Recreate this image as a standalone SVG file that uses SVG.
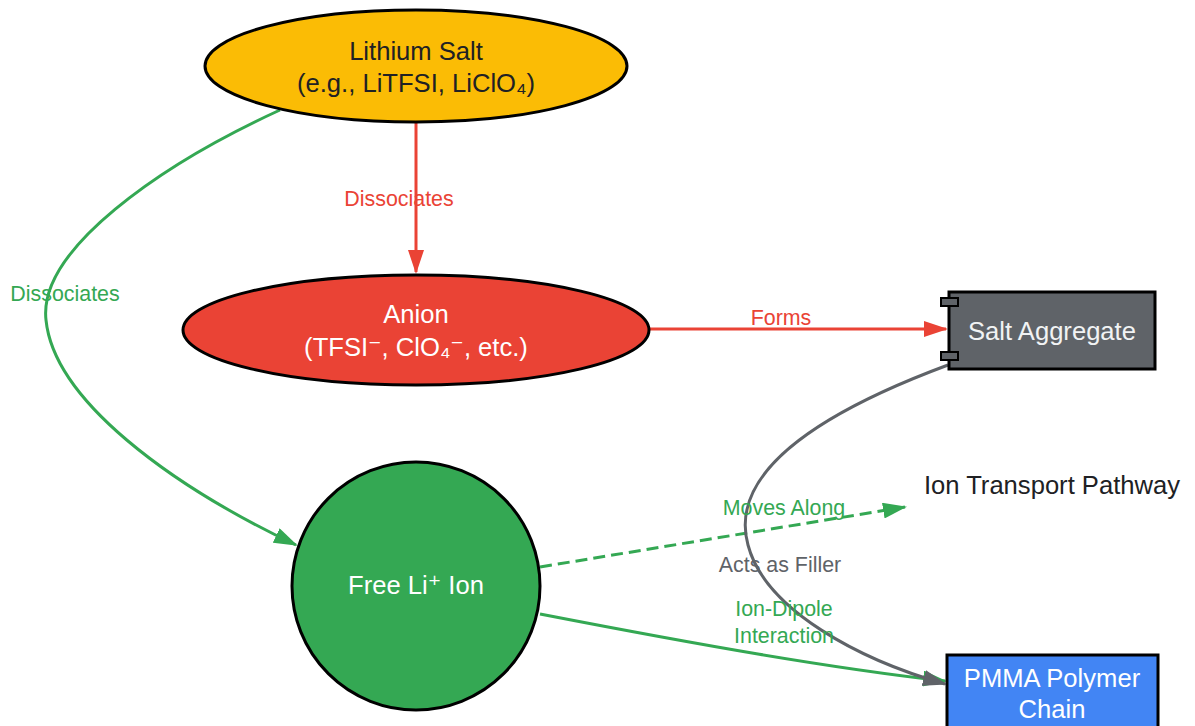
<svg xmlns="http://www.w3.org/2000/svg" width="1195" height="726" viewBox="0 0 1195 726">
<style>
text{font-family:"Liberation Sans",Arial,sans-serif;text-anchor:middle}
.nt{font-size:25.6px}
.el{font-size:21.4px}
.dj{font-family:"DejaVu Sans",sans-serif}
.node{stroke:#000;stroke-width:3}
.edge{fill:none;stroke-width:3}
</style>
<defs>
<marker id="arR" markerUnits="userSpaceOnUse" markerWidth="24" markerHeight="16" viewBox="0 0 24 16" refX="22" refY="8" orient="auto"><path d="M0,0 L24,8 L0,16 z" fill="#ea4335"/></marker>
<marker id="arG" markerUnits="userSpaceOnUse" markerWidth="24" markerHeight="16" viewBox="0 0 24 16" refX="22" refY="8" orient="auto"><path d="M0,0 L24,8 L0,16 z" fill="#34a853"/></marker>
<marker id="arK" markerUnits="userSpaceOnUse" markerWidth="24" markerHeight="16" viewBox="0 0 24 16" refX="22" refY="8" orient="auto"><path d="M0,0 L24,8 L0,16 z" fill="#5f6368"/></marker>
</defs>
<rect width="1195" height="726" fill="#fff"/>
<g id="connectors">
<path class="edge" d="M416,122 L416,272" stroke="#ea4335" marker-end="url(#arR)"/>
<path class="edge" d="M280,110 C160,165 38,250 46,320 C54,400 170,485 296,545" stroke="#34a853" marker-end="url(#arG)"/>
<path class="edge" d="M650,329 L946,329" stroke="#ea4335" marker-end="url(#arR)"/>
<path class="edge" d="M540,567 L905,507" stroke="#34a853" stroke-dasharray="12,6" marker-end="url(#arG)"/>
<path class="edge" d="M540,614 C700,645 830,668 945,681" stroke="#34a853" marker-end="url(#arG)"/>
<path class="edge" d="M948,365 C800,420 730,480 748,545 C765,610 860,660 945,684" stroke="#5f6368" marker-end="url(#arK)"/>
<text class="el" x="399" y="206" fill="#ea4335">Dissociates</text>
<text class="el" x="65" y="301" fill="#34a853">Dissociates</text>
<text class="el" x="781" y="325" fill="#ea4335">Forms</text>
<text class="el" x="784" y="515" fill="#34a853">Moves Along</text>
<text class="el" x="780" y="572" fill="#5f6368">Acts as Filler</text>
<text class="el" x="784" y="616" fill="#34a853">Ion-Dipole</text>
<text class="el" x="784" y="643" fill="#34a853">Interaction</text>
</g>
<g id="lithium-salt">
<ellipse class="node" cx="416" cy="66" rx="211" ry="56" fill="#fbbc05"/>
<text class="nt" x="416" y="60" fill="#202124">Lithium Salt</text>
<text class="nt" x="416" y="92" fill="#202124">(e.g., LiTFSI, LiClO₄)</text>
</g>
<g id="anion">
<ellipse class="node" cx="416" cy="330" rx="233" ry="55" fill="#ea4335"/>
<text class="nt" x="416" y="323" fill="#fff">Anion</text>
<text class="nt" x="416" y="356" fill="#fff">(TFSI<tspan class="dj">⁻</tspan>, ClO₄<tspan class="dj">⁻</tspan>, etc.)</text>
</g>
<g id="free-li">
<circle class="node" cx="416" cy="586" r="124" fill="#34a853"/>
<text class="nt" x="416" y="594" fill="#fff">Free Li<tspan class="dj">⁺</tspan> Ion</text>
</g>
<g id="salt-aggregate">
<rect class="node" x="949" y="292" width="206" height="77" fill="#5f6368"/>
<rect x="941" y="298" width="17" height="8" fill="#5f6368" stroke="#000" stroke-width="2"/>
<rect x="941" y="352" width="17" height="8" fill="#5f6368" stroke="#000" stroke-width="2"/>
<text class="nt" x="1052" y="340" fill="#f1f3f4">Salt Aggregate</text>
</g>
<g id="ion-transport">
<text class="nt" x="1052" y="494" fill="#202124">Ion Transport Pathway</text>
</g>
<g id="pmma">
<rect class="node" x="947" y="655" width="211" height="80" fill="#4285f4"/>
<text class="nt" x="1052" y="687" fill="#fff">PMMA Polymer</text>
<text class="nt" x="1052" y="718" fill="#fff">Chain</text>
</g>
</svg>
